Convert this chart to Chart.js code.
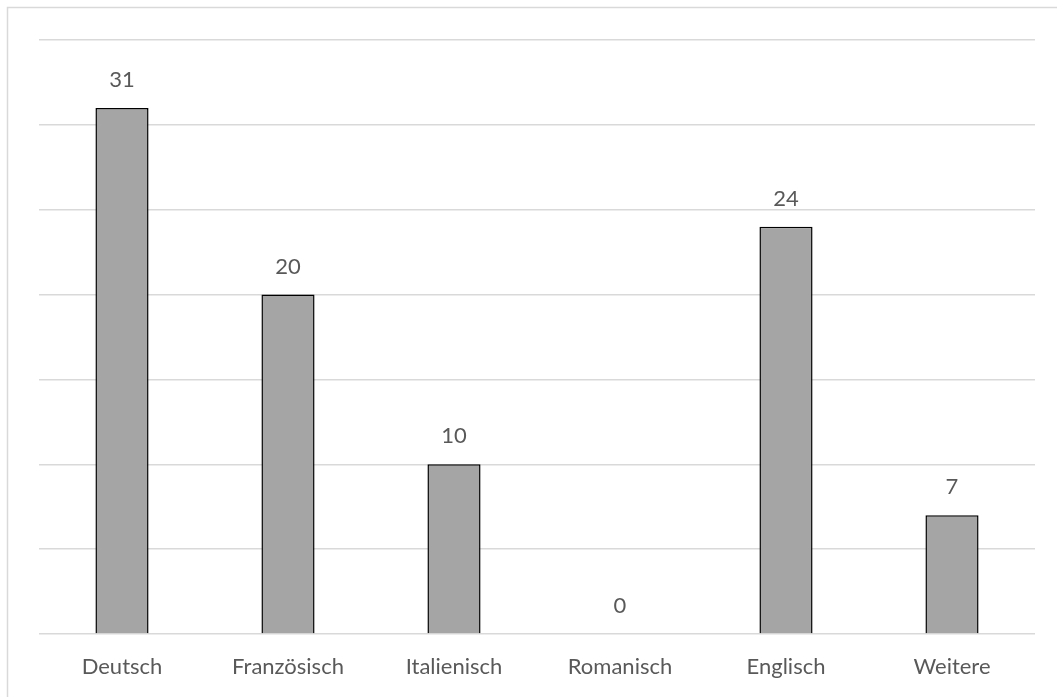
<!DOCTYPE html>
<html lang="de">
<head>
<meta charset="utf-8">
<script src="https://cdn.jsdelivr.net/npm/chart.js@4/dist/chart.umd.min.js"></script>
<style>
  html, body { margin: 0; padding: 0; background: #fff; }
  #wrap { position: relative; width: 1057px; height: 697px; }
</style>
</head>
<body>
<div id="wrap"><canvas id="chart"></canvas></div>
<script>
// ---------- data ----------
const categories = ["Deutsch", "Französisch", "Italienisch", "Romanisch", "Englisch", "Weitere"];
const values = [31, 20, 10, 0, 24, 7];
const yMax = 35;
const yStep = 5;

const FONT = "Lato, 'Open Sans', sans-serif";
const TEXT = "#595959";
const GRID = "#d9d9d9";

// frame around the chart (cropped right/bottom in the reference)
const framePlugin = {
  id: "frame",
  beforeDraw(chart) {
    const { ctx } = chart;
    ctx.save();
    ctx.strokeStyle = GRID;
    ctx.lineWidth = 1.5;
    ctx.beginPath();
    ctx.moveTo(7.5, chart.height);
    ctx.lineTo(7.5, 7.5);
    ctx.lineTo(chart.width, 7.5);
    ctx.stroke();
    ctx.restore();
  },
};

// value labels above each bar
const valueLabels = {
  id: "valueLabels",
  afterDatasetsDraw(chart) {
    const { ctx } = chart;
    const meta = chart.getDatasetMeta(0);
    ctx.save();
    ctx.fillStyle = TEXT;
    ctx.font = "22px " + FONT;
    ctx.textAlign = "center";
    ctx.textBaseline = "middle";
    meta.data.forEach((bar, i) => {
      ctx.fillText(String(values[i]), bar.x, bar.y - 28);
    });
    ctx.restore();
  },
};

new Chart(document.getElementById("chart"), {
  type: "bar",
  data: {
    labels: categories,
    datasets: [{
      data: values,
      backgroundColor: "#a5a5a5",
      borderColor: "#000000",
      borderWidth: 1.5,
      categoryPercentage: 1,
      barPercentage: 0.32,
    }],
  },
  options: {
    responsive: true,
    maintainAspectRatio: false,
    animation: false,
    layout: { padding: { left: 39, right: 22, top: 40, bottom: 0 } },
    scales: {
      x: {
        grid: { display: false, drawTicks: false },
        border: { display: false },
        afterFit: (scale) => { scale.height = 63; },
        ticks: {
          color: TEXT,
          font: { family: FONT, size: 22 },
          padding: 20,
          maxRotation: 0,
        },
      },
      y: {
        min: 0,
        max: yMax,
        grid: { color: GRID, lineWidth: 1.5, drawTicks: false },
        border: { display: false },
        ticks: { display: false, stepSize: yStep },
      },
    },
    plugins: {
      legend: { display: false },
      tooltip: { enabled: false },
    },
  },
  plugins: [framePlugin, valueLabels],
});
</script>
</body>
</html>
